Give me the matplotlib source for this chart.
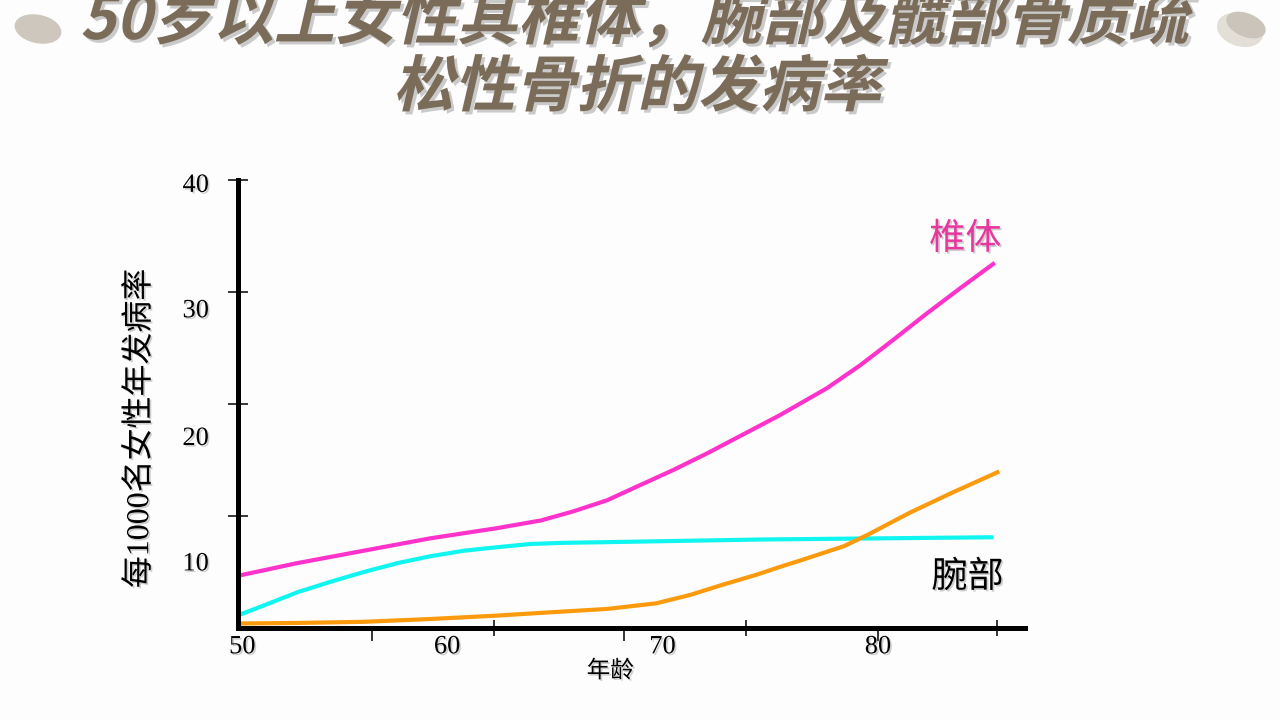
import matplotlib
matplotlib.use("Agg")
import matplotlib.pyplot as plt
import matplotlib.patheffects as pe
from matplotlib.textpath import TextPath
from matplotlib.font_manager import FontProperties
from matplotlib.patches import PathPatch, Ellipse
from matplotlib.transforms import Affine2D

plt.rcParams['font.family'] = ['Liberation Serif', 'Noto Sans CJK SC', 'DejaVu Sans']

# values (age, fractures per 1000 women per year)
spine_age = [50.1, 52.8, 55.9, 59.0, 62.1, 64.2, 65.7, 67.3, 68.9, 70.4, 72.0, 73.5, 75.4,
             77.6, 79.2, 80.7, 82.3, 83.9, 85.4]
spine_rate = [4.7, 5.8, 6.9, 8.0, 8.9, 9.6, 10.4, 11.4, 12.8, 14.1, 15.6, 17.1, 19.0,
              21.4, 23.5, 25.7, 28.1, 30.4, 32.5]

hip_age = [50.1, 51.2, 52.8, 54.3, 55.9, 57.5, 59.0, 60.6, 62.1, 63.7, 65.2, 68.4, 74.5, 85.3]
hip_rate = [1.2, 2.0, 3.2, 4.1, 5.0, 5.8, 6.4, 6.9, 7.2, 7.5, 7.6, 7.7, 7.9, 8.1]

wrist_age = [50.1, 52.8, 55.9, 59.0, 62.1, 64.2, 67.3, 69.6, 71.2, 72.7, 74.3, 75.4, 76.4,
             78.4, 79.5, 81.5, 83.5, 85.6]
wrist_rate = [0.4, 0.45, 0.55, 0.8, 1.1, 1.35, 1.7, 2.2, 2.95, 3.85, 4.75, 5.45, 6.05,
              7.3, 8.3, 10.3, 12.1, 13.9]

x_labels = ['50', '60', '70', '80']
x_label_pos = [50.2, 59.8, 69.9, 80.0]
x_ticks_cross = [62.0, 73.8, 85.6]
x_ticks_below = [56.3, 68.1, 80.0]
y_ticks = [10, 20, 30, 40]
y_labels = ['10', '20', '30', '40']
y_label_pos = [5.9, 17.1, 28.5, 39.7]

title1 = "50岁以上女性其椎体，腕部及髋部骨质疏"
title2 = "松性骨折的发病率"

bg = '#fdfdfd'
shadow = [pe.withSimplePatchShadow(offset=(1.2, -1.2), shadow_rgbFace='#777777', alpha=0.35)]

fig = plt.figure(figsize=(12.8, 7.2), dpi=100, facecolor=bg)
ax = fig.add_axes([0.1859, 0.1278, 0.615, 0.6222], facecolor=bg)

ax.plot(spine_age, spine_rate, color='#ff33cc', lw=3)
ax.plot(hip_age, hip_rate, color='#11f5f0', lw=3)
ax.plot(wrist_age, wrist_rate, color='#fa9a0c', lw=3)

ax.set_xlim(50, 86.9)
ax.set_ylim(0, 40)
for s in ['top', 'right']:
    ax.spines[s].set_visible(False)
for s in ['left', 'bottom']:
    ax.spines[s].set_linewidth(3.6)
    ax.spines[s].set_color('black')

# x axis: labels without marks, marks in two styles
ax.set_xticks(x_label_pos, labels=x_labels)
ax.tick_params(axis='x', which='major', length=0, pad=6, labelsize=19)
ax.set_xticks(x_ticks_cross, minor=True)
ax.tick_params(axis='x', which='minor', direction='inout', length=12, width=1.1, color='black')
sec = ax.secondary_xaxis('bottom')
sec.spines['bottom'].set_visible(False)
sec.set_xticks(x_ticks_below, labels=[])
sec.tick_params(direction='out', length=9, width=1.1, color='black')

# y axis: marks at tens, labels sit a bit lower
ax.set_yticks(y_ticks, labels=[])
ax.tick_params(axis='y', which='major', direction='inout', length=15, width=1.1, color='black')
ax.set_yticks(y_label_pos, labels=y_labels, minor=True)
ax.tick_params(axis='y', which='minor', length=0, pad=21, labelsize=19)

for lab in ax.get_xticklabels() + ax.get_yticklabels(minor=True):
    lab.set_path_effects(shadow)

ax.set_xlabel('年龄', fontsize=17, path_effects=shadow)
ax.xaxis.set_label_coords(0.473, -0.072)
ax.set_ylabel('每1000名女性年发病率', fontsize=23, path_effects=shadow, va='center')
ax.yaxis.set_label_coords(-0.1245, 0.446)

ax.text(84.1, 34.6, '椎体', color='#e8369f', fontsize=26, ha='center', va='center',
        path_effects=shadow)
ax.text(84.2, 4.46, '腕部', color='black', fontsize=26, ha='center', va='center',
        path_effects=shadow)

# title, slanted bold text with a soft shadow
px = Affine2D().scale(1 / 1280, 1 / 720) + fig.transFigure
fp = FontProperties(family='Noto Sans CJK SC', weight='bold')


def title_line(text, cx, base_y, size=61, skew=13):
    tp = TextPath((0, 0), text, size=size, prop=fp)
    ext = tp.get_extents()
    mid = (ext.x0 + ext.x1) / 2 + 0.4 * size * 0.23
    for dx, dy, col, a in [(3, -3, '#555555', 0.3), (0, 0, '#7b6c5a', 1.0)]:
        tr = Affine2D().translate(-mid, 0).skew_deg(skew, 0).translate(cx + dx, base_y + dy) + px
        fig.add_artist(PathPatch(tp, transform=tr, facecolor=col, edgecolor='none', alpha=a))


title_line(title1, 640, 681)
title_line(title2, 642, 614)

# decorative pebbles in the top corners
fig.add_artist(Ellipse((38, 691), 46, 27, angle=-12, transform=px, color='#cdc7bd'))
fig.add_artist(Ellipse((1240, 690), 46, 31, angle=-18, transform=px, color='#e3dfd6'))
fig.add_artist(Ellipse((1246, 695), 40, 22, angle=-22, transform=px, color='#cac4ba'))

fig.savefig('out.png', dpi=100, facecolor=bg)
